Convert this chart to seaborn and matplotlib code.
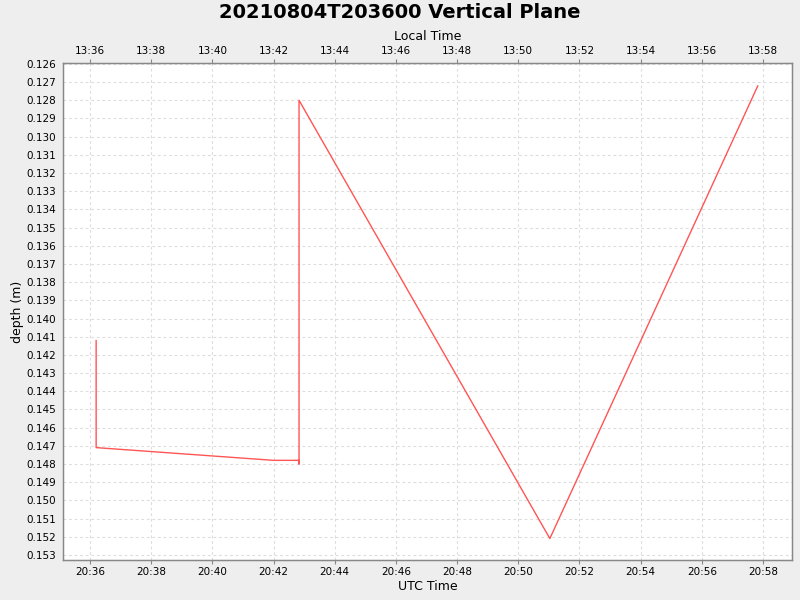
import matplotlib
matplotlib.use("Agg")
import matplotlib.pyplot as plt
import matplotlib.dates as mdates
from matplotlib.ticker import MultipleLocator, FormatStrFormatter
import seaborn as sns
import pandas as pd
import numpy as np

# Data
utc_times = ["2021-08-04 20:36:12", "2021-08-04 20:36:12", "2021-08-04 20:42:00",
             "2021-08-04 20:42:50", "2021-08-04 20:42:50", "2021-08-04 20:42:50",
             "2021-08-04 20:51:02", "2021-08-04 20:57:50"]
depths = [0.1412, 0.1471, 0.1478, 0.1478, 0.1480, 0.1280, 0.1521, 0.1272]
title = "20210804T203600 Vertical Plane"
local_offset_hours = -7

df = pd.DataFrame({"time": pd.to_datetime(utc_times), "depth": depths})

sns.set_style("white")
plt.rcParams['font.family'] = ['DejaVu Sans']
plt.rcParams['text.color'] = 'black'
plt.rcParams['axes.labelcolor'] = 'black'
plt.rcParams['xtick.color'] = 'black'
plt.rcParams['ytick.color'] = 'black'

fig = plt.figure(figsize=(8, 6), dpi=100, facecolor="#eeeeee")
ax = fig.add_axes([63/800, 40/600, (792-63)/800, (560-63)/600])
ax.set_facecolor("white")

sns.lineplot(data=df, x="time", y="depth", sort=False, estimator=None,
             color="#ff5555", linewidth=1.0, ax=ax)

xmin = pd.Timestamp("2021-08-04 20:35:07")
xmax = pd.Timestamp("2021-08-04 20:58:57")
ax.set_xlim(xmin, xmax)
ax.set_ylim(0.15328, 0.12595)

ax.yaxis.set_major_locator(MultipleLocator(0.001))
ax.yaxis.set_major_formatter(FormatStrFormatter("%.3f"))
ax.xaxis.set_major_locator(mdates.MinuteLocator(byminute=range(0, 60, 2)))
ax.xaxis.set_major_formatter(mdates.DateFormatter("%H:%M"))

grid_kw = dict(color="#dddddd", linestyle=(0, (2.5, 2.5)), linewidth=0.8)
ax.grid(True, **grid_kw)
for s in ax.spines.values():
    s.set_color("#888888")
    s.set_linewidth(1.0)
ax.tick_params(axis="both", labelsize=7.5, length=3, color="#888888",
               labelcolor="black", direction="out", pad=2)
ax.set_xlabel("UTC Time", fontsize=9, labelpad=2, color="black")
ax.set_ylabel("depth (m)", fontsize=9, color="black")
ax.yaxis.set_label_coords((24 - 63) / 729, 0.5)

# Top axis with local time
ax2 = ax.twiny()
ax2.set_xlim(ax.get_xlim())
ax2.xaxis.set_major_locator(mdates.MinuteLocator(byminute=range(0, 60, 2)))
def local_fmt(x, pos=None):
    t = mdates.num2date(x) + pd.Timedelta(hours=local_offset_hours)
    return t.strftime("%H:%M")
ax2.xaxis.set_major_formatter(plt.FuncFormatter(local_fmt))
ax2.tick_params(axis="x", labelsize=7.5, length=3, color="#888888",
                labelcolor="black", direction="out", pad=2)
ax2.set_xlabel("Local Time", fontsize=9, labelpad=4, color="black")
for s in ax2.spines.values():
    s.set_color("#888888")

fig.suptitle(title, fontsize=14, fontweight="bold", y=0.995, va="top", color="black")

fig.savefig("out.png", dpi=100, facecolor=fig.get_facecolor())
